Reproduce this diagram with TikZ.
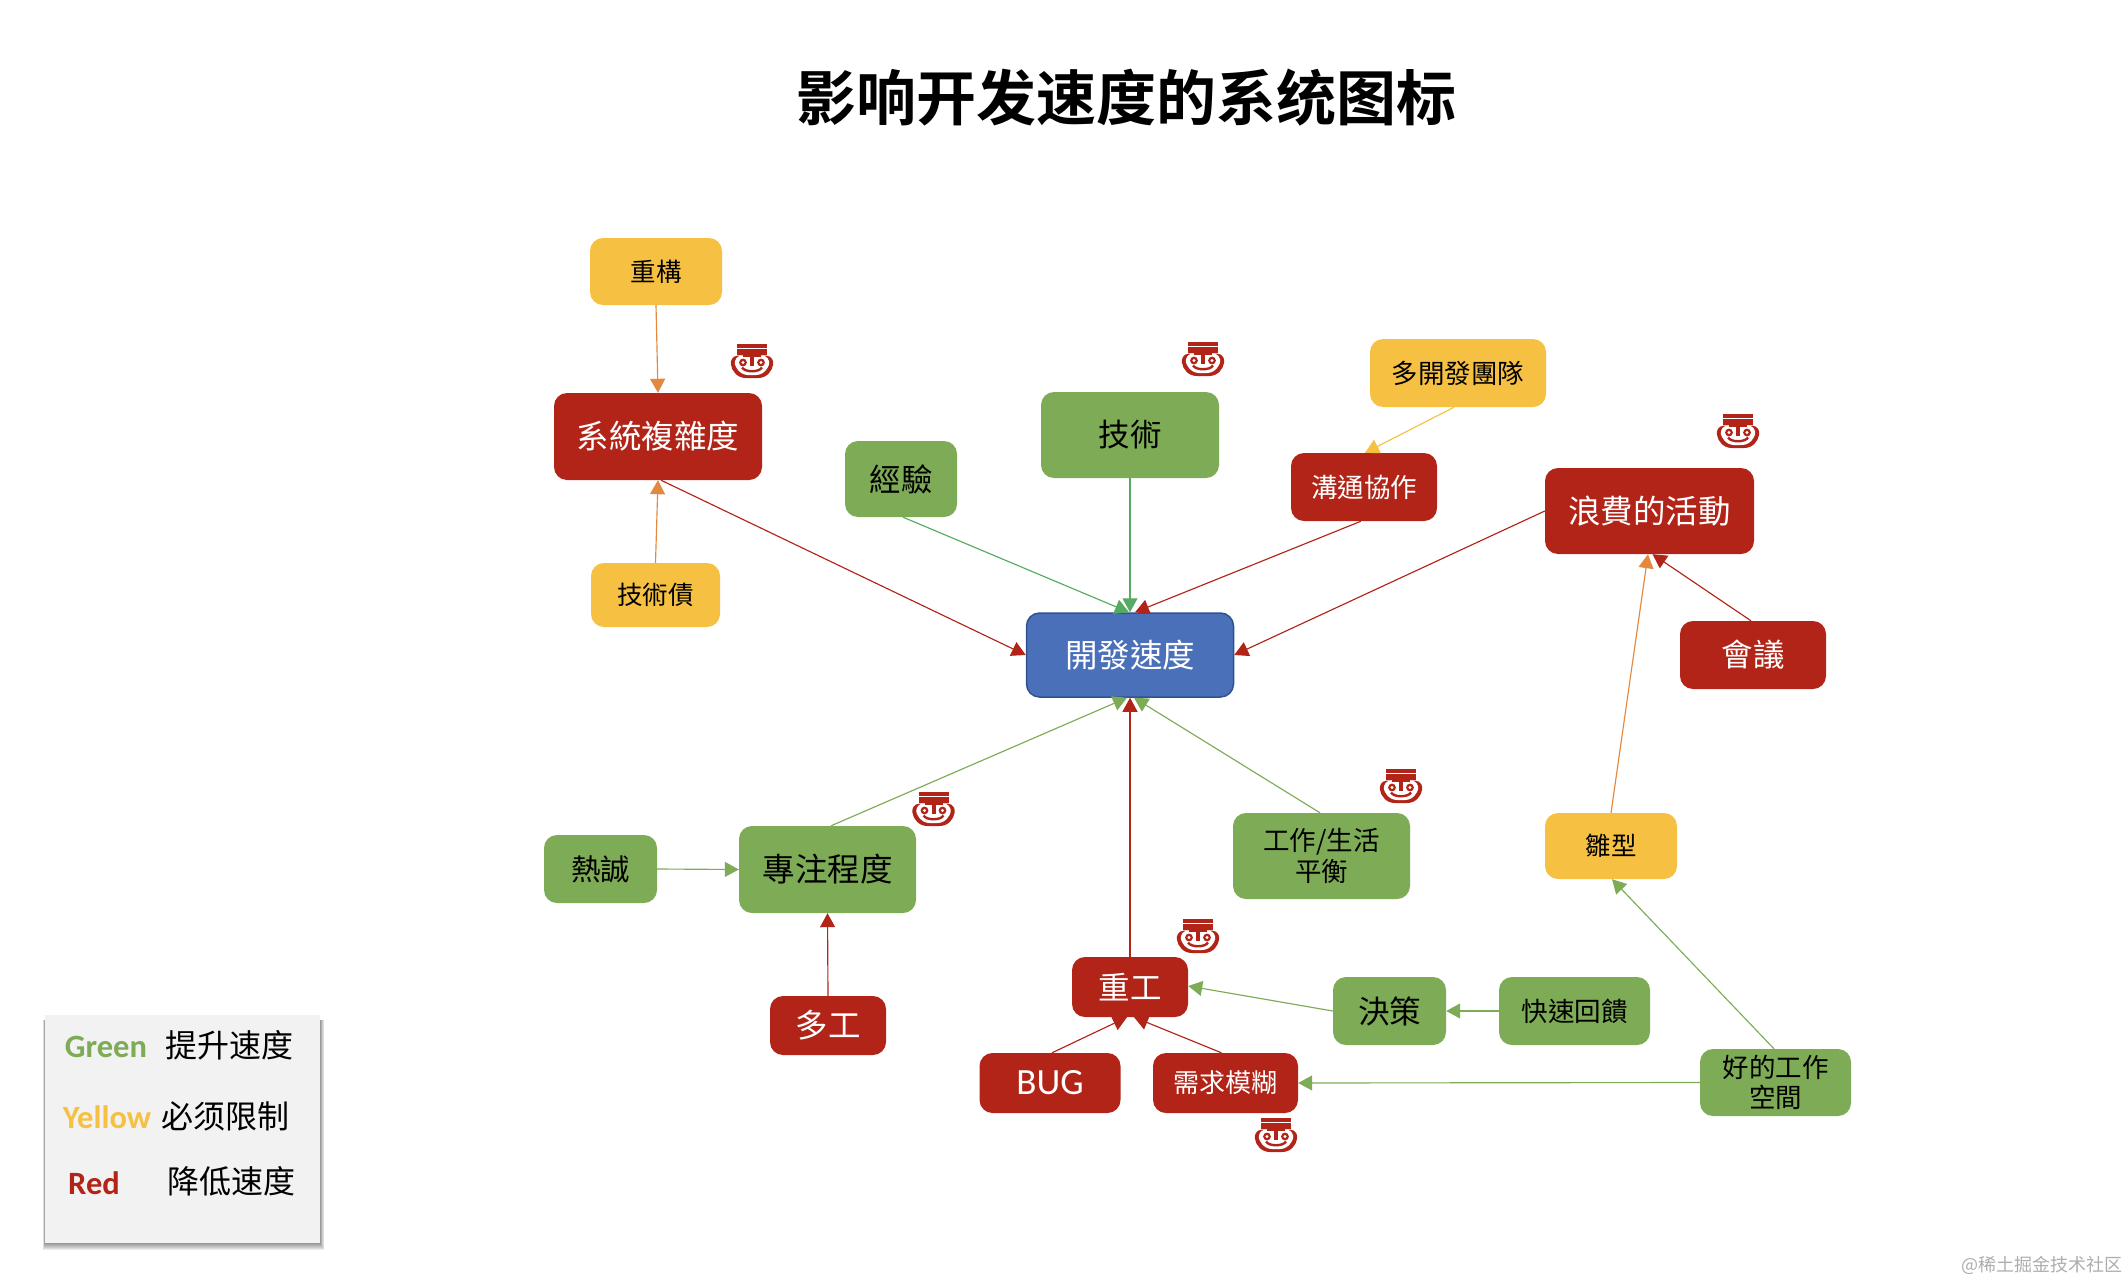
\documentclass[tikz,border=0pt]{standalone}
\usepackage{fontspec}
\usepackage{xcolor}
\usetikzlibrary{arrows.meta}
\setmainfont{Noto Sans CJK TC}
\newfontfamily\cjktc{Noto Sans CJK TC}
\newfontfamily\cjksc[BoldFont=Noto Sans CJK SC Bold]{Noto Sans CJK SC}
\newfontfamily\latinb[BoldFont=Carlito Bold]{Carlito}
\definecolor{cred}{HTML}{B22418}
\definecolor{cgreen}{HTML}{7EAB55}
\definecolor{cyellow}{HTML}{F6C142}
\definecolor{cblue}{HTML}{4A70BA}
\definecolor{cblueline}{HTML}{2F528F}
\definecolor{corange}{HTML}{E2893F}
\definecolor{clime}{HTML}{55AB62}
\newcommand{\fs}[1]{\fontsize{#1}{#1}\selectfont}
\newcommand{\dn}[1]{\raisebox{-1.3pt}{#1}}
\tikzset{
  x=1pt,y=-1pt,
  boxbase/.style={rectangle,rounded corners=13pt,inner sep=0pt,align=center,draw=none},
  redbox/.style={boxbase,fill=cred,text=white},
  greenbox/.style={boxbase,fill=cgreen,text=black},
  yellowbox/.style={boxbase,fill=cyellow,text=black},
  bluebox/.style={boxbase,fill=cblue,draw=cblueline,line width=1.5pt,text=white},
  conn/.style={-{Triangle[length=14pt,width=15pt]},line width=1.15pt},
  connred/.style={conn,draw=cred},
  conngreen/.style={conn,draw=cgreen},
  connlime/.style={conn,draw=clime},
  connorange/.style={conn,draw=corange},
  connyellow/.style={conn,draw=cyellow},
  legendtext/.style={inner sep=0pt,font=\cjksc\fs{32}},
  legendlabel/.style={inner sep=0pt,font=\latinb\bfseries\fs{32.5}},
  facemask/.pic={
    \fill[cred] (-15,-17) rectangle (15,-13.5);
    \fill[cred] (-15,-12) rectangle (15,-6.5);
    \fill[cred] (-14,-5.5) .. controls (-20,-5) and (-22,0) .. (-21,4)
       .. controls (-20,10) and (-15,17) .. (-6,17) -- (6,17)
       .. controls (15,17) and (20,10) .. (21,4)
       .. controls (22,0) and (20,-5) .. (14,-5.5) -- cycle;
    \fill[white] (-12,-5.5) .. controls (-18,-3) and (-18,3) .. (-16,6)
       .. controls (-13,12) and (-8,14) .. (-4,14) -- (4,14)
       .. controls (8,14) and (13,12) .. (16,6)
       .. controls (18,3) and (18,-3) .. (12,-5.5) -- cycle;
    \fill[cred] (-2,-6) rectangle (2,5);
    \fill[cred] (-9,-6) rectangle (9,-4);
    \draw[cred,line width=2.4pt] (-10,6.5) .. controls (-7,11.5) and (7,11.5) .. (10,6.5);
    \fill[cred] (-9,1.5) circle (3.9);
    \fill[cred] (9,1.5) circle (3.9);
    \fill[white] (-9,1.5) circle (1.7);
    \fill[white] (9,1.5) circle (1.7);
  }
}
\begin{document}
\begin{tikzpicture}
\useasboundingbox (0,0) rectangle (2128,1282);

\node[inner sep=0pt,font=\cjksc\bfseries\fs{60}] (title) at (1126,98) {影响开发速度的系统图标};

% Nodes
\node[yellowbox,minimum width=132pt,minimum height=67pt,font=\fs{25.5}] (chonggou) at (656,271.5) {\dn{重構}};
\node[redbox,minimum width=208pt,minimum height=87pt,font=\fs{32.5}] (xitong) at (658,436.5) {系統複雜度};
\node[yellowbox,minimum width=129pt,minimum height=64pt,font=\fs{25.5}] (zhai) at (655.5,595) {\dn{技術債}};
\node[greenbox,minimum width=112pt,minimum height=76pt,font=\fs{31.5}] (jingyan) at (901,479) {經驗};
\node[greenbox,minimum width=178pt,minimum height=86pt,font=\fs{31.5}] (jishu) at (1130,435) {技術};
\node[bluebox,minimum width=207pt,minimum height=84pt,font=\fs{32.5}] (kaifa) at (1130,655) {開發速度};
\node[yellowbox,minimum width=176pt,minimum height=68pt,font=\fs{26.5}] (duokaifa) at (1458,373) {\dn{多開發團隊}};
\node[redbox,minimum width=146pt,minimum height=68pt,font=\fs{26.5}] (goutong) at (1364,487) {\dn{溝通協作}};
\node[redbox,minimum width=209pt,minimum height=86pt,font=\fs{32.5}] (langfei) at (1649.5,511) {浪費的活動};
\node[redbox,minimum width=146pt,minimum height=68pt,font=\fs{31.5}] (huiyi) at (1753,655) {會議};
\node[greenbox,minimum width=113pt,minimum height=68pt,font=\fs{29.5}] (rechen) at (600.5,869) {熱誠};
\node[greenbox,minimum width=177pt,minimum height=87pt,font=\fs{32.5}] (zhuanzhu) at (827.5,869.5) {專注程度};
\node[redbox,minimum width=116pt,minimum height=59pt,font=\fs{32.5}] (duogong) at (828,1025.5) {多工};
\node[redbox,minimum width=116pt,minimum height=60pt,font=\fs{31.5}] (chonggong) at (1130,987) {重工};
\node[redbox,minimum width=141pt,minimum height=60pt,font=\latinb\fs{37}] (bug) at (1050,1083) {BUG};
\node[redbox,minimum width=145pt,minimum height=60pt,font=\fs{26}] (xuqiu) at (1225.5,1083) {需求模糊};
\node[greenbox,minimum width=177pt,minimum height=86pt,font=\fs{26.5},text width=170pt] (gongzuo) at (1321.5,856) {工作/生活\\[3pt]平衡};
\node[yellowbox,minimum width=132pt,minimum height=66pt,font=\fs{25.5}] (chuxing) at (1611,846) {\dn{雛型}};
\node[greenbox,minimum width=113pt,minimum height=68pt,font=\fs{31.5}] (juece) at (1389.5,1011) {決策};
\node[greenbox,minimum width=151pt,minimum height=68pt,font=\fs{26.5}] (kuaisu) at (1574.5,1011) {快速回饋};
\node[greenbox,minimum width=151pt,minimum height=67pt,font=\fs{26.5},text width=145pt] (haode) at (1775.5,1082.5) {好的工作\\[3pt]空間};

% Connectors
\draw[connorange] (chonggou.south) -- (xitong.north);
\draw[connorange] (zhai.north) -- (xitong.south);
\draw[connred] ([xshift=3pt]xitong.south) -- (kaifa.west);
\draw[connlime] ([xshift=2pt]jingyan.south) -- ([xshift=-1pt]kaifa.north);
\draw[connlime] (jishu.south) -- (kaifa.north);
\draw[connred] ([xshift=-3pt]goutong.south) -- ([xshift=5pt]kaifa.north);
\draw[connyellow] ([xshift=-4pt]duokaifa.south) -- ([xshift=1pt]goutong.north);
\draw[connred] (langfei.west) -- (kaifa.east);
\draw[connred] ([xshift=-2pt]huiyi.north) -- ([xshift=3pt]langfei.south);
\draw[connorange] (chuxing.north) -- ([xshift=-1.5pt]langfei.south);
\draw[conngreen] ([xshift=-1.5pt]haode.north) -- ([xshift=1pt]chuxing.south);
\draw[conngreen] (haode.west) -- (xuqiu.east);
\draw[conngreen] (kuaisu.west) -- (juece.east);
\draw[conngreen] (juece.west) -- ([yshift=1pt]chonggong.east);
\draw[connred] ([xshift=2pt]bug.north) -- ([xshift=-3pt]chonggong.south);
\draw[connred] ([xshift=-4pt]xuqiu.north) -- ([xshift=4pt]chonggong.south);
\draw[conngreen] ([xshift=3.5pt]zhuanzhu.north) -- ([xshift=-3pt]kaifa.south);
\draw[conngreen] ([xshift=-1.5pt]gongzuo.north) -- ([xshift=4pt]kaifa.south);
\draw[connred] (chonggong.north) -- (kaifa.south);
\draw[conngreen] (rechen.east) -- (zhuanzhu.west);
\draw[connred] (duogong.north) -- (zhuanzhu.south);

% Face icons
\pic at (752,361) {facemask};
\pic at (1203,359) {facemask};
\pic at (1738,431) {facemask};
\pic at (933.5,809) {facemask};
\pic at (1198,936) {facemask};
\pic at (1276,1135) {facemask};
\pic at (1401,786) {facemask};

% Legend
\foreach \o in {1,...,7} {
  \fill[black,opacity=0.07] (45-\o*0.3,1020) rectangle (320+\o*0.6,1243+\o);
}
\node[rectangle,fill=black!5,minimum width=275pt,minimum height=228pt,inner sep=0pt] (legend) at (182.5,1129) {};
\node[legendlabel,text=cgreen] (lgreen) at (106,1047) {Green};
\node[legendtext] (tgreen) at (229,1045) {提升速度};
\node[legendlabel,text=cyellow] (lyellow) at (107,1117) {Yellow};
\node[legendtext] (tyellow) at (225,1116) {必须限制};
\node[legendlabel,text=cred] (lred) at (94,1183) {Red};
\node[legendtext] (tred) at (231.5,1181) {降低速度};

% Watermark
\node[inner sep=0pt,text=black!32,font=\cjksc\fs{18}] (mark) at (2042,1265) {@稀土掘金技术社区};
\end{tikzpicture}
\end{document}
